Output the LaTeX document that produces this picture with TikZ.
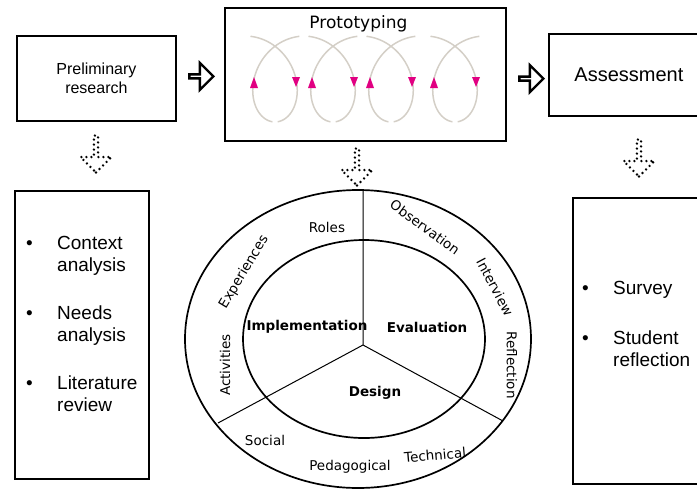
\documentclass[tikz,border=0pt]{standalone}
\usepackage{fontspec}
\setmainfont{Liberation Sans}
\newfontfamily\wheelfont{DejaVu Sans}
\usetikzlibrary{positioning,shapes.arrows,calc}

\definecolor{coilgray}{RGB}{212,207,199}
\definecolor{tipmagenta}{RGB}{225,0,130}

\tikzset{
  box/.style={draw, line width=1.8pt, inner sep=0pt},
  listtext/.style={font=\fontsize{19}{22}\selectfont, inner sep=0pt, align=left},
  flowarrow/.style={single arrow, draw, line width=2.4pt, minimum height=24pt,
    minimum width=27pt, single arrow head extend=7pt, inner sep=0pt},
  dotarrow/.style={single arrow, draw, line width=2.6pt, line cap=round,
    dash pattern=on 0pt off 5pt, shape border rotate=270, minimum height=37pt,
    minimum width=31pt, single arrow head extend=8.5pt, inner sep=0pt},
  coil/.style={draw=coilgray, line width=1.5pt},
  tipmark/.style={fill=tipmagenta},
  ring/.style={line width=1.7pt},
  spoke/.style={line width=1pt},
  wheellabel/.style={font=\wheelfont\fontsize{13.5}{15}\selectfont, inner sep=0pt},
  phase/.style={font=\wheelfont\bfseries\fontsize{13.5}{15}\selectfont, inner sep=0pt}
}

\begin{document}
\begin{tikzpicture}[x=1pt, y=-1pt]
  \useasboundingbox (0,0) rectangle (697,488);

  % top row
  \node[box, anchor=north west, minimum width=159pt, minimum height=85pt,
        align=center, font=\fontsize{16}{18.5}\selectfont] (prelim) at (16,35) {Preliminary\\research};
  \node[box, anchor=north west, minimum width=281pt, minimum height=133pt] (proto) at (224,7) {};
  \node[inner sep=0pt, anchor=north, font=\wheelfont\fontsize{17}{18}\selectfont]
        (protolabel) at ($(proto.north)+(-7,8)$) {Prototyping};
  \node[box, anchor=north west, minimum width=160pt, minimum height=82pt,
        font=\fontsize{20}{22}\selectfont] (assess) at (548,33) {Assessment};

  \node[flowarrow] (arrowa) at ($(prelim.east)!0.5!(proto.west)$) {};
  \node[flowarrow] (arrowb) at ($(proto.east)!0.5!(assess.west)+(3,4)$) {};

  % iteration loops
  \foreach \xc in {275,333,391,455} {
    \draw[coil] plot[domain=0.12:3.04, samples=40, variable=\t]
      ({\xc-30+9.55*\t+36*sin(\t r)}, {79-43*cos(\t r)});
    \draw[coil] plot[domain=3.24:6.16, samples=40, variable=\t]
      ({\xc-30+9.55*\t+36*sin(\t r)}, {79-43*cos(\t r)});
    \fill[tipmark] (\xc-25,88) -- (\xc-17,88) -- (\xc-21,77) -- cycle;
    \fill[tipmark] (\xc+17,77) -- (\xc+25,77) -- (\xc+21,87) -- cycle;
  }

  % dotted arrows
  \node[dotarrow] (downa) at (96,153) {};
  \node[dotarrow] (downb) at (357,166) {};
  \node[dotarrow] (downc) at (639,157) {};

  % lower boxes
  \node[box, anchor=north west, minimum width=134pt, minimum height=288pt] (leftbox) at (14,190) {};
  \node[listtext, anchor=base west] (needslist) at (26,249) {%
    \begin{tabular}[t]{@{}p{31pt}@{}l@{}}
      • & Context\\ & analysis\\[26pt]
      • & Needs\\ & analysis\\[26pt]
      • & Literature\\ & review
    \end{tabular}};
  \node[box, anchor=north west, minimum width=140pt, minimum height=286pt] (rightbox) at (572,197) {};
  \node[listtext, anchor=base west] (assesslist) at (582,294) {%
    \begin{tabular}[t]{@{}p{31pt}@{}l@{}}
      • & Survey\\[28pt]
      • & Student\\ & reflection
    \end{tabular}};

  % design wheel
  \coordinate (hub) at (363,345);
  \coordinate (top) at (363,190);
  \coordinate (lowleft) at (218,423);
  \coordinate (lowright) at (503,421);
  \draw[ring] (358,339) ellipse [x radius=173, y radius=149];
  \draw[ring] (364,339) ellipse [x radius=121, y radius=99];
  \draw[spoke] (hub) -- (top) (hub) -- (lowleft) (hub) -- (lowright);

  \node[phase] (impl) at (307,327) {Implementation};
  \node[phase] (eval) at (427,327) {Evaluation};
  \node[phase] (design) at (375,393) {Design};

  \node[wheellabel] (roles) at (327,227) {Roles};
  \node[wheellabel, rotate=59] (exper) at (244,272) {Experiences};
  \node[wheellabel, rotate=90] (activ) at (225,365) {Activities};
  \node[wheellabel, rotate=-36] (observ) at (425,227) {Observation};
  \node[wheellabel, rotate=-62] (interv) at (495,287) {Interview};
  \node[wheellabel, rotate=-90] (reflect) at (512,365) {Reflection};
  \node[wheellabel] (social) at (265,440) {Social};
  \node[wheellabel] (pedag) at (350,467) {Pedagogical};
  \node[wheellabel, rotate=5] (techn) at (435,455) {Technical};
\end{tikzpicture}
\end{document}
